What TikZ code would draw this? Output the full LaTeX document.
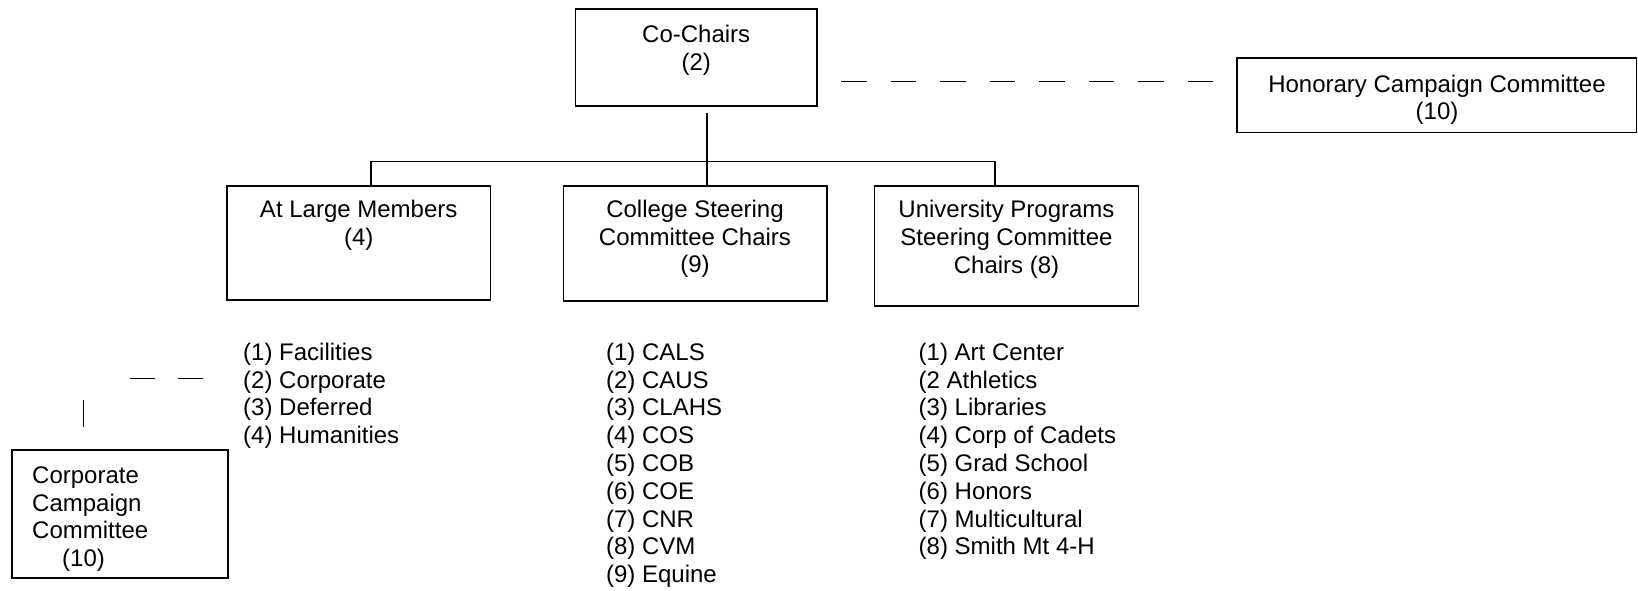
\documentclass[tikz,border=0pt]{standalone}
\usepackage{fontspec}
\setmainfont{Liberation Sans}
\begin{document}
\begin{tikzpicture}[x=1pt,y=-1pt,
  box/.style={draw, line width=1.8pt, inner sep=0pt, outer sep=0pt, anchor=north west},
  boxtext/.style={inner sep=0pt, anchor=north, align=center, font=\fontsize{24}{27.8}\selectfont},
  listtext/.style={inner sep=0pt, anchor=north west, align=left, font=\fontsize{24}{27.8}\selectfont},
  conn/.style={line width=1.5pt},
  dconn/.style={line width=1.5pt, dash pattern=on 25.5pt off 24pt, dash phase=25.5pt}
]
\useasboundingbox (0,0) rectangle (1638,591);
\def\st{\rule{0pt}{20pt}}
% boxes
\node[box, minimum width=241.5pt, minimum height=96.4pt] (cochairs) at (575.5,9.3) {};
\node[box, minimum width=399.5pt, minimum height=74.2pt] (honorary) at (1237,58.3) {};
\node[box, minimum width=263.8pt, minimum height=114.3pt] (atlarge) at (226.7,185.7) {};
\node[box, minimum width=263.2pt, minimum height=115pt] (college) at (563.5,185.7) {};
\node[box, minimum width=264.1pt, minimum height=120.3pt] (univ) at (874.4,185.7) {};
\node[box, minimum width=216pt, minimum height=128.3pt] (corporate) at (11.7,450) {};
% box texts
\node[boxtext] (cochairsT) at (696.2,22.5) {\st Co-Chairs\\(2)};
\node[boxtext] (honoraryT) at (1437,72) {\st Honorary Campaign Committee\\(10)};
\node[boxtext] (atlargeT) at (358.7,197.7) {\st At Large Members\\(4)};
\node[boxtext] (collegeT) at (695,197) {\st College Steering\\Committee Chairs\\(9)};
\node[boxtext] (univT) at (1006.5,197.7) {\st University Programs\\Steering Committee\\Chairs (8)};
\node[listtext] (corporateT) at (32,463) {\st Corporate\\Campaign\\Committee\\\hspace*{30pt}(10)};
% lists
\node[listtext] (atlargeL) at (243,340) {\st (1) Facilities\\(2) Corporate\\(3) Deferred\\(4) Humanities};
\node[listtext] (collegeL) at (605.9,340) {\st (1) CALS\\(2) CAUS\\(3) CLAHS\\(4) COS\\(5) COB\\(6) COE\\(7) CNR\\(8) CVM\\(9) Equine};
\node[listtext] (univL) at (918.5,340) {\st (1) Art Center\\(2 Athletics\\(3) Libraries\\(4) Corp of Cadets\\(5) Grad School\\(6) Honors\\(7) Multicultural\\(8) Smith Mt 4-H};
% connectors
\coordinate (cctop) at (707,113.3);
\coordinate (busL) at (371,161.7);
\coordinate (busR) at (995,161.7);
\coordinate (hd) at (0,81.7);
\coordinate (cdA) at (203.3,378.3);
\coordinate (cdB) at (83.3,378.3);
\draw[conn] (cctop) -- (cctop |- college.north);
\draw[conn] (atlarge.north -| busL) -- (busL) -- (busR) -- (univ.north -| busR);
\draw[dconn] (cochairs.east |- hd) -- (honorary.west |- hd);
\draw[line width=1.5pt, dash pattern=on 25pt off 23.3pt on 25pt off 68.4pt on 26.7pt off 30pt] (cdA) -- (cdB) -- (corporate.north -| cdB);
\end{tikzpicture}
\end{document}
